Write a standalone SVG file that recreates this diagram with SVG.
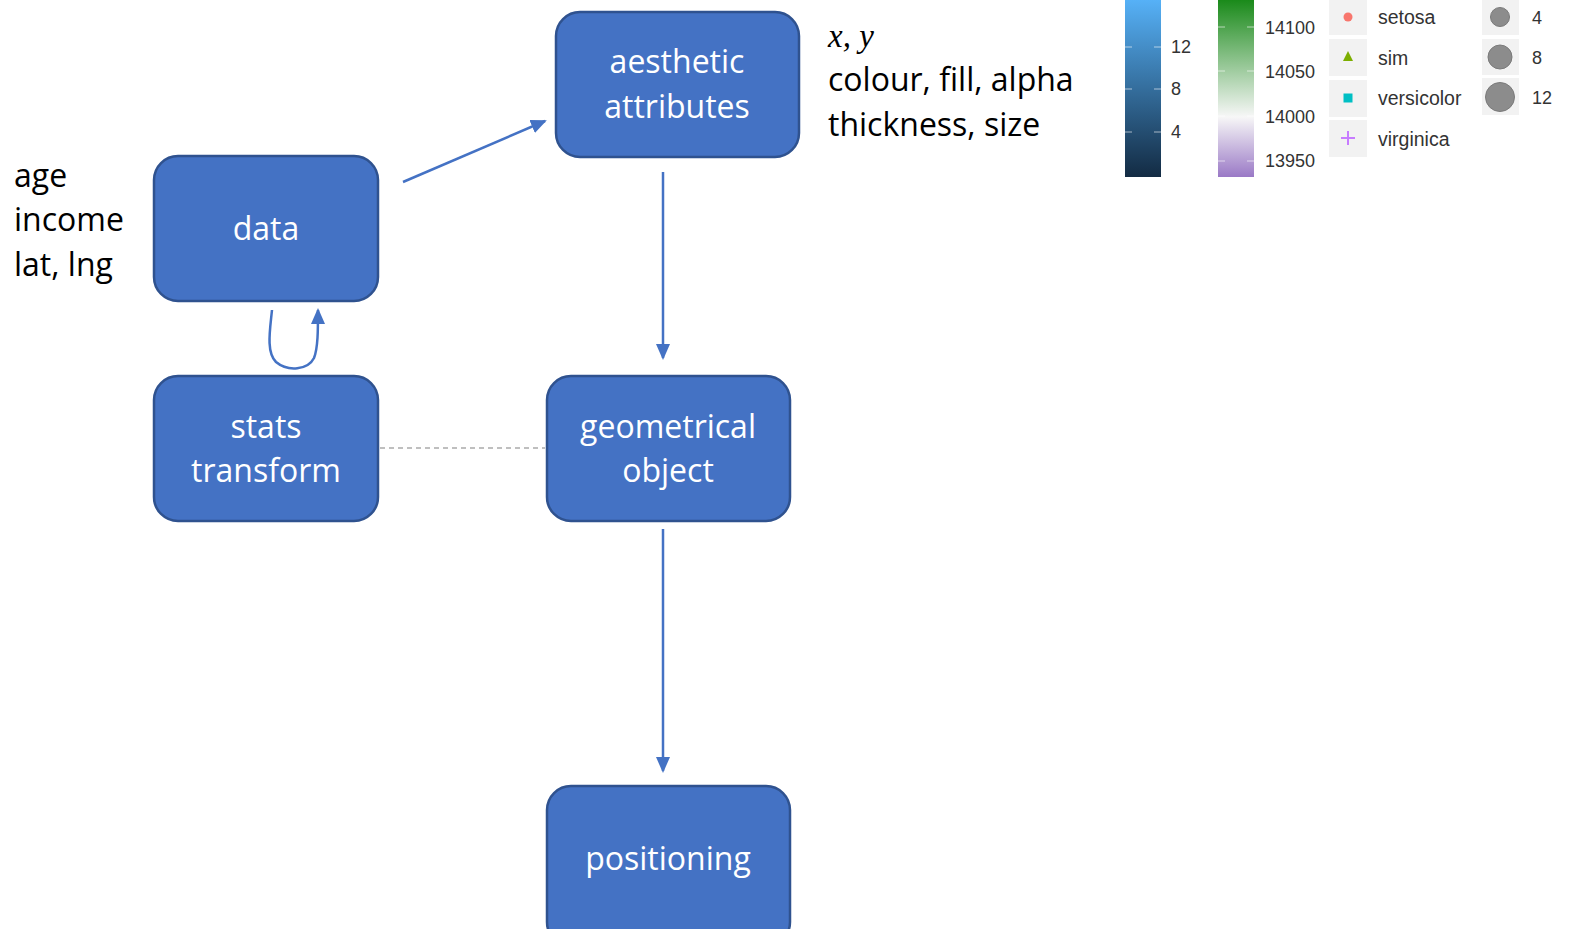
<svg xmlns="http://www.w3.org/2000/svg" width="1572" height="929" viewBox="0 0 1572 929">
<style>
.box{fill:#4472C4;stroke:#2F528F;stroke-width:2.5}
.bt{font-family:"Open Sans","Noto Sans",sans-serif;font-size:32px;fill:#fff;text-anchor:middle}
.side{font-family:"Open Sans","Noto Sans",sans-serif;font-size:32px;fill:#000}
.conn{stroke:#4472C4;stroke-width:2.5;fill:none}
.lg{font-family:"Liberation Sans",Arial,sans-serif;font-size:18px;fill:#333}
.lgs{font-family:"Liberation Sans",Arial,sans-serif;font-size:19.5px;fill:#333}
.key{fill:#F2F2F2}
.tick{stroke:#fff;stroke-width:1;opacity:0.6}
</style>
<defs>
<marker id="ah2" markerWidth="16" markerHeight="16" refX="14" refY="8" orient="auto" markerUnits="userSpaceOnUse" viewBox="0 0 16 16">
<path d="M0,1 L16,8 L0,15 z" fill="#4472C4"/>
</marker>
<linearGradient id="gblue" x1="0" y1="0" x2="0" y2="1">
<stop offset="0" stop-color="#56B1F7"/>
<stop offset="1" stop-color="#132B43"/>
</linearGradient>
<linearGradient id="ggreen" x1="0" y1="0" x2="0" y2="1">
<stop offset="0" stop-color="#1A8A1A"/>
<stop offset="0.66" stop-color="#F7F7F7"/>
<stop offset="1" stop-color="#9A79C6"/>
</linearGradient>
</defs>

<g id="connectors">
<line class="conn" x1="403" y1="182" x2="545" y2="121" marker-end="url(#ah2)"/>
<line class="conn" x1="663" y1="172" x2="663" y2="358" marker-end="url(#ah2)"/>
<line class="conn" x1="663" y1="529" x2="663" y2="771" marker-end="url(#ah2)"/>
<path class="conn" d="M272,310 C270,330 266,352 276,362 C288,372 308,370 314,358 C318,348 318,330 318,310" marker-end="url(#ah2)"/>
<line x1="380" y1="448" x2="545" y2="448" stroke="#BFBFBF" stroke-width="2" stroke-dasharray="5,4"/>
</g>

<g id="node-aesthetic">
<rect class="box" x="556" y="12" width="243" height="145" rx="24"/>
<text class="bt" x="677" y="73">aesthetic</text>
<text class="bt" x="677" y="118">attributes</text>
</g>
<g id="node-data">
<rect class="box" x="154" y="156" width="224" height="145" rx="24"/>
<text class="bt" x="266" y="240">data</text>
</g>
<g id="node-stats">
<rect class="box" x="154" y="376" width="224" height="145" rx="24"/>
<text class="bt" x="266" y="438">stats</text>
<text class="bt" x="266" y="482">transform</text>
</g>
<g id="node-geom">
<rect class="box" x="547" y="376" width="243" height="145" rx="24"/>
<text class="bt" x="668" y="438">geometrical</text>
<text class="bt" x="668" y="482">object</text>
</g>
<g id="node-positioning">
<rect class="box" x="547" y="786" width="243" height="160" rx="24"/>
<text class="bt" x="668" y="870">positioning</text>
</g>

<g id="data-labels">
<text class="side" x="14" y="187">age</text>
<text class="side" x="14" y="231">income</text>
<text class="side" x="14" y="276">lat, lng</text>
</g>
<g id="aes-labels">
<text x="828" y="47" font-family="'Liberation Serif','DejaVu Serif',serif" font-style="italic" font-size="33px">x, y</text>
<text class="side" x="828" y="91">colour, fill, alpha</text>
<text class="side" x="828" y="136">thickness, size</text>
</g>

<g id="legend">
<rect x="1125" y="0" width="36" height="177" fill="url(#gblue)"/>
<line class="tick" x1="1125" y1="47" x2="1132" y2="47"/><line class="tick" x1="1154" y1="47" x2="1161" y2="47"/>
<line class="tick" x1="1125" y1="89" x2="1132" y2="89"/><line class="tick" x1="1154" y1="89" x2="1161" y2="89"/>
<line class="tick" x1="1125" y1="132" x2="1132" y2="132"/><line class="tick" x1="1154" y1="132" x2="1161" y2="132"/>
<text class="lg" x="1171" y="53">12</text>
<text class="lg" x="1171" y="95">8</text>
<text class="lg" x="1171" y="138">4</text>

<rect x="1218" y="0" width="36" height="177" fill="url(#ggreen)"/>
<line class="tick" x1="1218" y1="27" x2="1225" y2="27"/><line class="tick" x1="1247" y1="27" x2="1254" y2="27"/>
<line class="tick" x1="1218" y1="71" x2="1225" y2="71"/><line class="tick" x1="1247" y1="71" x2="1254" y2="71"/>
<line class="tick" x1="1218" y1="116" x2="1225" y2="116"/><line class="tick" x1="1247" y1="116" x2="1254" y2="116"/>
<line class="tick" x1="1218" y1="161" x2="1225" y2="161"/><line class="tick" x1="1247" y1="161" x2="1254" y2="161"/>
<text class="lg" x="1265" y="34">14100</text>
<text class="lg" x="1265" y="78">14050</text>
<text class="lg" x="1265" y="123">14000</text>
<text class="lg" x="1265" y="167">13950</text>

<rect class="key" x="1329" y="0" width="38" height="35"/>
<rect class="key" x="1329" y="39" width="38" height="37"/>
<rect class="key" x="1329" y="80" width="38" height="37"/>
<rect class="key" x="1329" y="120" width="38" height="37"/>
<circle cx="1348" cy="17" r="4.5" fill="#F8766D"/>
<path d="M1348,51 L1353,61 L1343,61 z" fill="#7CAE00"/>
<rect x="1343.5" y="93.5" width="9" height="9" fill="#00BFC4"/>
<path d="M1348,131 V145 M1341,138 H1355" stroke="#C77CFF" stroke-width="2"/>
<text class="lgs" x="1378" y="24">setosa</text>
<text class="lgs" x="1378" y="65">sim</text>
<text class="lgs" x="1378" y="105">versicolor</text>
<text class="lgs" x="1378" y="146">virginica</text>

<rect class="key" x="1482" y="0" width="37" height="35"/>
<rect class="key" x="1482" y="39" width="37" height="36"/>
<rect class="key" x="1482" y="78" width="37" height="37"/>
<circle cx="1500" cy="17" r="9.5" fill="#8C8C8C" stroke="#7A7A7A" stroke-width="1"/>
<circle cx="1500" cy="57" r="12" fill="#8C8C8C" stroke="#7A7A7A" stroke-width="1"/>
<circle cx="1500" cy="97" r="14.5" fill="#8C8C8C" stroke="#7A7A7A" stroke-width="1"/>
<text class="lg" x="1532" y="24">4</text>
<text class="lg" x="1532" y="64">8</text>
<text class="lg" x="1532" y="104">12</text>
</g>
</svg>
